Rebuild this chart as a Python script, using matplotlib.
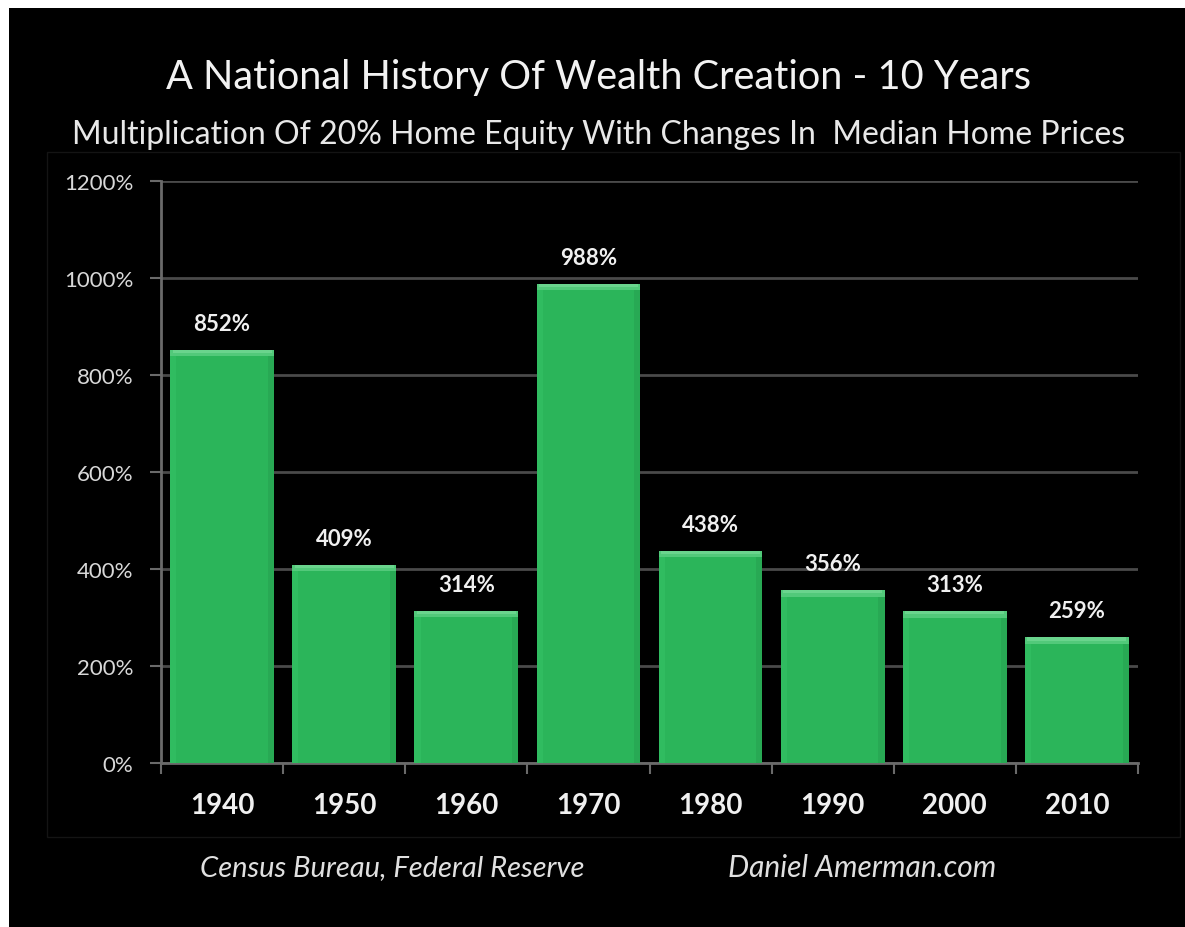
import matplotlib
matplotlib.use("Agg")
import matplotlib.pyplot as plt
from matplotlib.patches import Rectangle

years = ["1940", "1950", "1960", "1970", "1980", "1990", "2000", "2010"]
values = [852, 409, 314, 988, 438, 356, 313, 259]
yticks = [0, 200, 400, 600, 800, 1000, 1200]
ytick_labels = ["0%", "200%", "400%", "600%", "800%", "1000%", "1200%"]
title = "A National History Of Wealth Creation - 10 Years"
subtitle = "Multiplication Of 20% Home Equity With Changes In  Median Home Prices"
source_left = "Census Bureau, Federal Reserve"
source_right = "Daniel Amerman.com"

plt.rcParams['font.family'] = ['Lato', 'DejaVu Sans']

W, H = 1185, 928
fig = plt.figure(figsize=(W / 100, H / 100), dpi=100, facecolor='white')
fig.patches.append(Rectangle((9 / W, -0.02), 1.05, 1.02 - 9 / H, transform=fig.transFigure,
                             facecolor='black', edgecolor='none', zorder=-10))
# faint inner frame
fig.patches.append(Rectangle((47 / W, 1 - 838 / H), (1180 - 47) / W, (838 - 153) / H,
                             transform=fig.transFigure, facecolor='none',
                             edgecolor='#141414', linewidth=1, zorder=-5))

ax = fig.add_axes([161 / W, 1 - 764 / H, 977 / W, 582 / H])
ax.set_facecolor('none')
x = list(range(len(years)))
bw = 0.85
green = '#2BB55A'
top_h = 13
ax.bar(x, values, width=bw, color=green, edgecolor='none', zorder=3)
# bevel: top highlight and subtle side shading
ax.bar(x, [top_h] * len(x), bottom=[v - top_h for v in values], width=bw, color='#52C97A',
       edgecolor='none', zorder=4)
ax.bar(x, [top_h / 2] * len(x), bottom=[v - top_h / 2 for v in values], width=bw - 0.04,
       color='#6AD48D', edgecolor='none', zorder=4)
ax.bar([i + bw / 2 - 0.025 for i in x], [v - top_h for v in values], width=0.05,
       color='#28A954', edgecolor='none', zorder=4)
ax.bar([i - bw / 2 + 0.025 for i in x], [v - top_h for v in values], width=0.05,
       color='#30BC60', edgecolor='none', zorder=4)

for xi, v in zip(x, values):
    ax.annotate(f"{v}%", (xi, v), xytext=(0, 19), textcoords='offset points',
                ha='center', va='center', color='#F0F0F0', fontsize=16,
                fontweight='bold', zorder=6)

ax.set_xlim(-0.5, len(years) - 0.5)
ax.set_ylim(0, 1200)
ax.set_yticks(yticks)
ax.set_yticklabels(ytick_labels, color='#D8D8D8', fontsize=16)
ax.grid(axis='y', color='#4A4A4A', linewidth=2, zorder=1)
ax.set_axisbelow(True)
ax.tick_params(axis='y', length=8, width=1.5, color='#6A6A6A', pad=12)

ax.set_xticks(x)
ax.set_xticklabels(years, color='#F0F0F0', fontsize=20, fontweight='bold')
ax.set_xticks([i - 0.5 for i in range(len(years) + 1)], minor=True)
ax.tick_params(axis='x', which='major', length=0, pad=21)
ax.tick_params(axis='x', which='minor', length=8, width=1.5, color='#6A6A6A')

for s in ['top', 'right']:
    ax.spines[s].set_visible(False)
for s in ['left', 'bottom']:
    ax.spines[s].set_color('#6A6A6A')
    ax.spines[s].set_linewidth(2)

fig.text(598 / W, 1 - 78 / H, title, ha='center', va='center', color='#F2F2F2', fontsize=28.6)
fig.text(599 / W, 1 - 135 / H, subtitle, ha='center', va='center', color='#E8E8E8', fontsize=23)
fig.text(392 / W, 1 - 868 / H, source_left, ha='center', va='center', color='#E0E0E0',
         fontsize=21, style='italic')
fig.text(862 / W, 1 - 868 / H, source_right, ha='center', va='center', color='#E0E0E0',
         fontsize=21.5, style='italic')

fig.savefig('out.png', dpi=100, facecolor=fig.get_facecolor())
